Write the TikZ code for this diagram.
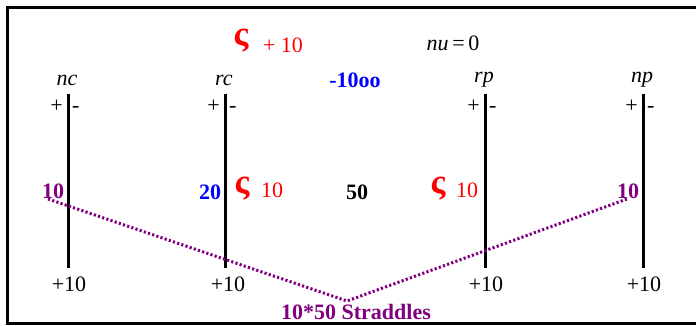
\documentclass[tikz,border=0pt]{standalone}
\usepackage{fontspec}
\setmainfont{Liberation Serif}
\usetikzlibrary{positioning}
\definecolor{StrPurple}{HTML}{800080}
\definecolor{SigRed}{HTML}{FF0000}
\definecolor{ValBlue}{HTML}{0000FF}

\begin{document}
\begin{tikzpicture}[
      x=1pt, y=-1pt,
      txt/.style={inner sep=0pt, font=\fontsize{22}{24}\selectfont},
      lbl/.style={inner sep=0pt, font=\fontsize{22}{24}\selectfont\itshape},
      val/.style={inner sep=0pt, font=\fontsize{22}{24}\selectfont\bfseries},
      sig/.style={inner sep=0pt, text=SigRed, font=\fontsize{35}{35}\selectfont\bfseries},
      pm/.style={inner sep=0pt, text height=1.4ex, text depth=0.2ex,
        font=\fontsize{22}{24}\selectfont},
      post/.style={line width=3pt},
      straddle/.style={draw=StrPurple, line width=3pt,
        dash pattern=on 2.2pt off 2.2pt}
    ]
      \useasboundingbox (0,0) rectangle (696,326);
      % frame
      \draw[line width=3pt] (697,7.5) -- (7.5,7.5) -- (7.5,323.5) -- (697,323.5);

      % top row
      \node[sig] (sigtop) at (241,41) {ς};
      \node[txt, text=SigRed] (plusten) at (283,45) {+ 10};
      \node[txt] (nu) at (453,43) {\textit{nu}\,=\,0};
      \node[val, text=ValBlue] (minus) at (355,80) {-10oo};

      % posts
      \node[lbl] (nc) at (67,80) {nc};
      \node[lbl] (rc) at (224,80) {rc};
      \node[lbl] (rp) at (484,80) {rp};
      \node[lbl] (np) at (642,80) {np};
      \coordinate (nctop) at (68,94);   \coordinate (ncbot) at (68,268);
      \coordinate (rctop) at (225,94);  \coordinate (rcbot) at (225,268);
      \coordinate (rptop) at (485,94);  \coordinate (rpbot) at (485,268);
      \coordinate (nptop) at (643,94);  \coordinate (npbot) at (643,268);
      \draw[post] (nctop) -- (ncbot);
      \draw[post] (rctop) -- (rcbot);
      \draw[post] (rptop) -- (rpbot);
      \draw[post] (nptop) -- (npbot);

      % signs beside the posts
      \coordinate (ncsign) at (68,110);
      \coordinate (rcsign) at (225,110);
      \coordinate (rpsign) at (485,110);
      \coordinate (npsign) at (643,110);
      \node[pm, left=5pt of ncsign] (ncplus) {+};
      \node[pm, right=4pt of ncsign] (ncminus) {-};
      \node[pm, left=5pt of rcsign] (rcplus) {+};
      \node[pm, right=4pt of rcsign] (rcminus) {-};
      \node[pm, left=5pt of rpsign] (rpplus) {+};
      \node[pm, right=4pt of rpsign] (rpminus) {-};
      \node[pm, left=5pt of npsign] (npplus) {+};
      \node[pm, right=4pt of npsign] (npminus) {-};

      % middle row
      \node[val, text=StrPurple] (ncten) at (53,191) {10};
      \node[val, text=ValBlue] (twenty) at (210,192) {20};
      \node[sig] (sigrc) at (242,189) {ς};
      \node[txt, text=SigRed] (rcten) at (272,190) {10};
      \node[val] (fifty) at (357,192) {50};
      \node[sig] (sigrp) at (438,189) {ς};
      \node[txt, text=SigRed] (rpten) at (467,190) {10};
      \node[val, text=StrPurple] (npten) at (628,191) {10};

      % bottom row
      \node[txt] (ncbase) at (69,284) {+10};
      \node[txt] (rcbase) at (228,284) {+10};
      \node[txt] (rpbase) at (486,284) {+10};
      \node[txt] (npbase) at (644,284) {+10};

      % straddle
      \coordinate (leftend) at (48,199);
      \coordinate (vertex) at (347,301);
      \coordinate (rightend) at (627,199);
      \draw[straddle] (leftend) -- (vertex) -- (rightend);
      \node[val, text=StrPurple] (straddles) at (356,312) {10*50 Straddles};
    \end{tikzpicture}
\end{document}
